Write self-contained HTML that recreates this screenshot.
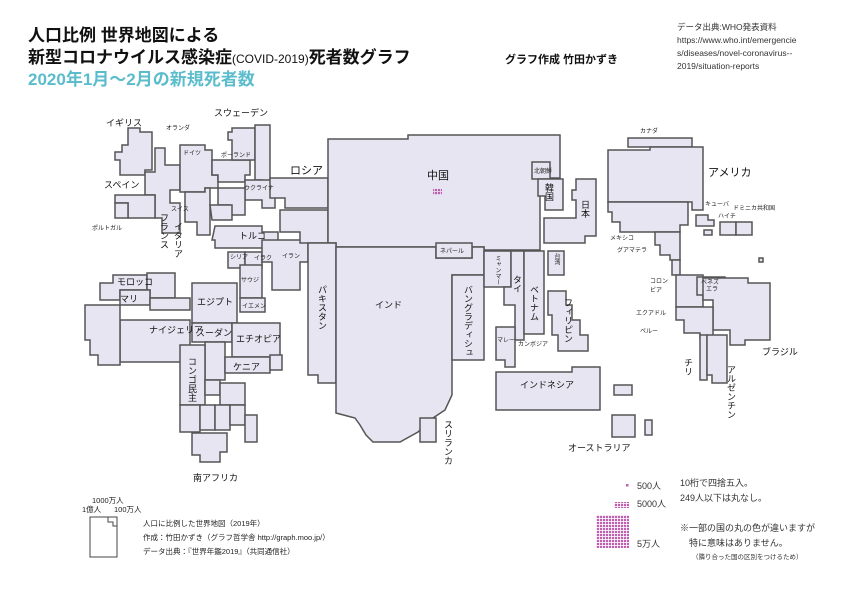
<!DOCTYPE html>
<html><head><meta charset="utf-8"><style>
body{margin:0;background:#fff}
svg{display:block;font-family:"Liberation Sans","Noto Sans CJK JP",sans-serif}
.c{fill:#e7e5f1;stroke:#555;stroke-width:1.5;stroke-linejoin:miter}
.t{font-size:9px;fill:#111}
.s{font-size:6px;fill:#222}
.m{font-size:11px;fill:#111}
.v{writing-mode:vertical-rl}
</style></head><body>
<svg width="842" height="595" viewBox="0 0 842 595">
<defs><pattern id="dp" width="3" height="3" patternUnits="userSpaceOnUse"><rect x="0" y="0" width="2.2" height="2.2" fill="#c060b0"/></pattern></defs>
<text x="28" y="41" font-size="17" font-weight="bold" fill="#111">人口比例 世界地図による</text>
<text x="28" y="63" font-size="17" font-weight="bold" fill="#111">新型コロナウイルス感染症<tspan font-size="12" font-weight="normal">(COVID-2019)</tspan>死者数グラフ</text>
<text x="28" y="85" font-size="17" font-weight="bold" fill="#5bbccc">2020年1月～2月の新規死者数</text>
<text x="505" y="63" font-size="11" font-weight="bold" fill="#111">グラフ作成 竹田かずき</text>
<g font-size="8.5" fill="#333"><text x="677" y="30">データ出典:WHO発表資料</text><text x="677" y="43">https://www.who.int/emergencie</text><text x="677" y="56">s/diseases/novel-coronavirus--</text><text x="677" y="69">2019/situation-reports</text></g>

<!-- Europe -->
<polygon class="c" points="128,128 140,128 140,132 152,132 152,170 145,170 145,175 120,175 120,160 115,160 115,152 122,152 122,145 128,145"/>
<polygon class="c" points="155,148 165,148 165,165 180,165 180,190 170,190 170,203 180,203 180,233 162,233 162,218 155,218 155,195 145,195 145,172 155,172"/>
<polygon class="c" points="115,195 155,195 155,218 128,218 128,203 115,203"/>
<polygon class="c" points="115,203 128,203 128,218 115,218"/>
<polygon class="c" points="180,145 205,145 205,150 212,150 212,175 218,175 218,188 205,188 205,192 180,192"/>
<polygon class="c" points="205,188 210,188 210,235 197,235 197,222 185,222 185,192 205,192"/>
<polygon class="c" points="212,160 250,160 250,175 245,175 245,182 218,182 218,175 212,175"/>
<polygon class="c" points="232,128 255,128 255,160 232,160 232,140 228,140 228,132 232,132"/>
<polygon class="c" points="255,125 270,125 270,180 285,180 285,195 262,195 262,180 255,180"/>
<polygon class="c" points="245,180 275,180 275,208 262,208 262,200 245,200"/>
<polygon class="c" points="218,188 245,188 245,215 230,215 230,205 218,205"/>
<polygon class="c" points="210,205 232,205 232,220 212,220"/>
<polygon class="c" points="270,178 328,178 328,208 285,208 285,198 270,198"/>
<polygon class="c" points="215,226 262,226 262,232 278,232 278,248 215,248 215,240 212,240"/>
<polygon class="c" points="228,252 245,252 245,268 228,268"/>
<polygon class="c" points="245,252 262,252 262,268 245,268"/>
<polygon class="c" points="262,240 308,240 308,262 300,262 300,290 272,290 272,262 262,262"/>
<polygon class="c" points="280,210 328,210 328,243 300,243 300,232 280,232"/>
<!-- Asia -->
<polygon class="c" points="328,139 408,139 408,135 560,135 560,178 540,178 540,250 484,250 484,247 336,247 336,243 328,243"/>
<polygon class="c" points="532,162 550,162 550,179 532,179"/>
<polygon class="c" points="538,179 563,179 563,210 545,210 545,196 538,196"/>
<polygon class="c" points="576,179 596,179 596,236 585,236 585,243 544,243 544,218 576,218 576,200 572,200 572,190 576,190"/>
<polygon class="c" points="308,243 336,243 336,383 318,383 318,375 308,375"/>
<polygon class="c" points="336,247 436,247 436,258 472,258 472,247 484,247 484,275 452,275 452,395 445,410 430,420 418,432 400,442 373,442 366,435 360,425 355,418 336,413"/>
<polygon class="c" points="436,243 472,243 472,258 436,258"/>
<polygon class="c" points="452,275 484,275 484,360 452,360"/>
<polygon class="c" points="484,251 511,251 511,287 484,287"/>
<polygon class="c" points="511,251 524,251 524,340 515,340 515,305 504,305 504,287 511,287"/>
<polygon class="c" points="524,251 544,251 544,334 524,334"/>
<polygon class="c" points="496,327 515,327 515,367 505,367 505,360 496,360"/>
<polygon class="c" points="548,251 564,251 564,275 548,275"/>
<polygon class="c" points="548,291 566,291 566,305 572,305 572,320 580,320 580,335 588,335 588,351 558,351 558,335 552,335 552,315 548,315"/>
<polygon class="c" points="496,372 572,372 572,367 600,367 600,410 496,410"/>
<polygon class="c" points="420,418 436,418 436,442 420,442"/>
<polygon class="c" points="612,415 635,415 635,437 612,437"/>
<polygon class="c" points="614,385 632,385 632,395 614,395"/>
<polygon class="c" points="645,420 652,420 652,435 645,435"/>
<!-- Africa -->
<polygon class="c" points="113,275 147,275 147,290 120,290 120,300 100,300 100,283 113,283"/>
<polygon class="c" points="147,273 175,273 175,298 150,298 150,290 147,290"/>
<polygon class="c" points="120,290 150,290 150,305 120,305"/>
<polygon class="c" points="150,298 190,298 190,310 150,310"/>
<polygon class="c" points="192,283 237,283 237,323 192,323"/>
<polygon class="c" points="120,320 190,320 190,362 120,362"/>
<polygon class="c" points="85,305 120,305 120,365 98,365 98,355 90,355 90,340 85,340"/>
<polygon class="c" points="192,323 232,323 232,342 192,342"/>
<polygon class="c" points="232,323 280,323 280,357 232,357"/>
<polygon class="c" points="205,342 225,342 225,380 205,380"/>
<polygon class="c" points="225,357 270,357 270,373 225,373"/>
<polygon class="c" points="270,355 282,355 282,370 270,370"/>
<polygon class="c" points="180,345 205,345 205,405 180,405"/>
<polygon class="c" points="205,380 220,380 220,395 205,395"/>
<polygon class="c" points="220,383 245,383 245,405 220,405"/>
<polygon class="c" points="180,405 200,405 200,432 180,432"/>
<polygon class="c" points="200,405 215,405 215,430 200,430"/>
<polygon class="c" points="215,405 230,405 230,430 215,430"/>
<polygon class="c" points="230,405 245,405 245,425 230,425"/>
<polygon class="c" points="192,433 227,433 227,452 220,452 220,462 200,462 200,455 192,455"/>
<polygon class="c" points="245,415 257,415 257,442 245,442"/>
<polygon class="c" points="240,265 262,265 262,298 240,298"/>
<polygon class="c" points="240,298 265,298 265,312 240,312"/>
<!-- Americas -->
<polygon class="c" points="628,138 692,138 692,147 628,147"/>
<polygon class="c" points="608,150 650,150 650,147 703,147 703,210 692,210 692,202 608,202"/>
<polygon class="c" points="608,202 688,202 688,225 680,225 680,232 620,232 620,222 612,222 612,212 608,212"/>
<polygon class="c" points="655,232 680,232 680,260 670,260 670,255 660,255 660,245 655,245"/>
<polygon class="c" points="672,260 680,260 680,275 672,275"/>
<polygon class="c" points="696,215 708,215 708,220 714,220 714,226 696,226"/>
<polygon class="c" points="720,222 736,222 736,235 720,235"/>
<polygon class="c" points="736,222 752,222 752,235 736,235"/>
<polygon class="c" points="704,230 712,230 712,235 704,235"/>
<polygon class="c" points="676,275 703,275 703,307 676,307"/>
<polygon class="c" points="697,277 725,277 725,295 697,295"/>
<polygon class="c" points="703,278 748,278 748,283 770,283 770,340 745,340 745,345 730,345 730,330 713,330 713,300 703,300"/>
<polygon class="c" points="676,307 713,307 713,338 700,338 700,333 684,333 684,320 676,320"/>
<polygon class="c" points="700,335 707,335 707,380 700,380"/>
<polygon class="c" points="707,335 727,335 727,383 712,383 712,375 707,375"/>
<polygon class="c" points="759,258 763,258 763,262 759,262"/>
<rect x="433" y="188.5" width="9" height="6" fill="url(#dp)"/>

<!-- labels -->
<text class="t" x="106" y="126">イギリス</text><text class="s" x="166" y="130">オランダ</text>
<text class="t" x="214" y="116">スウェーデン</text><text class="s" x="183" y="155">ドイツ</text>
<text class="s" x="221" y="157">ポーランド</text><text class="m" x="290" y="174">ロシア</text>
<text class="t" x="104" y="188">スペイン</text><text class="s" x="244" y="190">ウクライナ</text>
<text class="s" x="92" y="230">ポルトガル</text><text class="s" x="171" y="211">スイス</text>
<text class="t" x="239" y="239">トルコ</text><text class="s" x="230" y="259">シリア</text><text class="s" x="254" y="260">イラク</text><text class="s" x="282" y="258">イラン</text>
<text class="t v" x="164" y="213">フランス</text><text class="t v" x="178" y="222">イタリア</text>
<text class="m" x="427" y="179">中国</text><text class="s" x="534" y="173">北朝鮮</text>
<text class="t v" x="549" y="183">韓国</text><text class="t v" x="585" y="200">日本</text>
<text class="t" x="375" y="308">インド</text><text class="s" x="440" y="253">ネパール</text>
<text class="t v" x="322" y="285">パキスタン</text><text class="t v" x="468" y="285">バングラディシュ</text>
<text class="s v" x="497" y="255">ミャンマー</text><text class="t v" x="517" y="275">タイ</text><text class="t v" x="534" y="285">ベトナム</text>
<text class="s v" x="556" y="253">台湾</text><text class="t v" x="568" y="298">フィリピン</text>
<text class="t" x="520" y="388">インドネシア</text><text class="t v" x="448" y="420">スリランカ</text>
<text class="t" x="568" y="451">オーストラリア</text><text class="s" x="518" y="346">カンボジア</text>
<text class="s" x="497" y="342">マレー</text>
<text class="t" x="197" y="305">エジプト</text><text class="t" x="149" y="333">ナイジェリア</text>
<text class="t" x="196" y="336">スーダン</text><text class="t" x="236" y="342">エチオピア</text>
<text class="t" x="233" y="370">ケニア</text><text class="t" x="117" y="285">モロッコ</text><text class="t" x="120" y="302">マリ</text>
<text class="t v" x="192" y="357">コンゴ民主</text><text class="s" x="241" y="282">サウジ</text><text class="s" x="242" y="308">イエメン</text>
<text class="t" x="193" y="481">南アフリカ</text>
<text class="s" x="640" y="133">カナダ</text><text class="m" x="708" y="176">アメリカ</text>
<text class="s" x="610" y="240">メキシコ</text><text class="s" x="617" y="252">グアマテラ</text>
<text class="s" x="705" y="206">キューバ</text><text class="s" x="733" y="210">ドミニカ共和国</text><text class="s" x="718" y="218">ハイチ</text>
<text class="s" x="650" y="283">コロン</text><text class="s" x="650" y="292">ビア</text>
<text class="s" x="701" y="284">ベネズ</text><text class="s" x="706" y="291">エラ</text>
<text class="s" x="636" y="315">エクアドル</text><text class="s" x="640" y="333">ペルー</text>
<text class="t" x="762" y="355">ブラジル</text><text class="t v" x="688" y="358">チリ</text><text class="t v" x="731" y="365">アルゼンチン</text>

<!-- legend -->
<rect x="90" y="517" width="27" height="40" fill="#fff" stroke="#444"/>
<polyline points="108,517 108,522 113,522 113,526 117,526" fill="none" stroke="#444"/>
<g font-size="7.5" fill="#222"><text x="92" y="503">1000万人</text><text x="82" y="512">1億人</text><text x="114" y="512">100万人</text>
<text x="143" y="526">人口に比例した世界地図（2019年）</text><text x="143" y="540">作成：竹田かずき（グラフ哲学舎 http://graph.moo.jp/）</text><text x="143" y="554">データ出典：『世界年鑑2019』（共同通信社）</text></g>
<rect x="626" y="484" width="2.5" height="2.5" fill="#c060b0"/>
<rect x="614" y="502" width="15" height="6" fill="url(#dp)"/>
<rect x="596" y="515" width="33" height="33" fill="url(#dp)"/>
<g font-size="9" fill="#333"><text x="637" y="489">500人</text><text x="637" y="507">5000人</text><text x="637" y="547">5万人</text>
<text x="680" y="486">10桁で四捨五入。</text><text x="680" y="501">249人以下は丸なし。</text>
<text x="680" y="531">※一部の国の丸の色が違いますが</text><text x="689" y="546">特に意味はありません。</text></g>
<text x="692" y="559" font-size="6.5" fill="#333">（隣り合った国の区別をつけるため）</text>
</svg>
</body></html>
